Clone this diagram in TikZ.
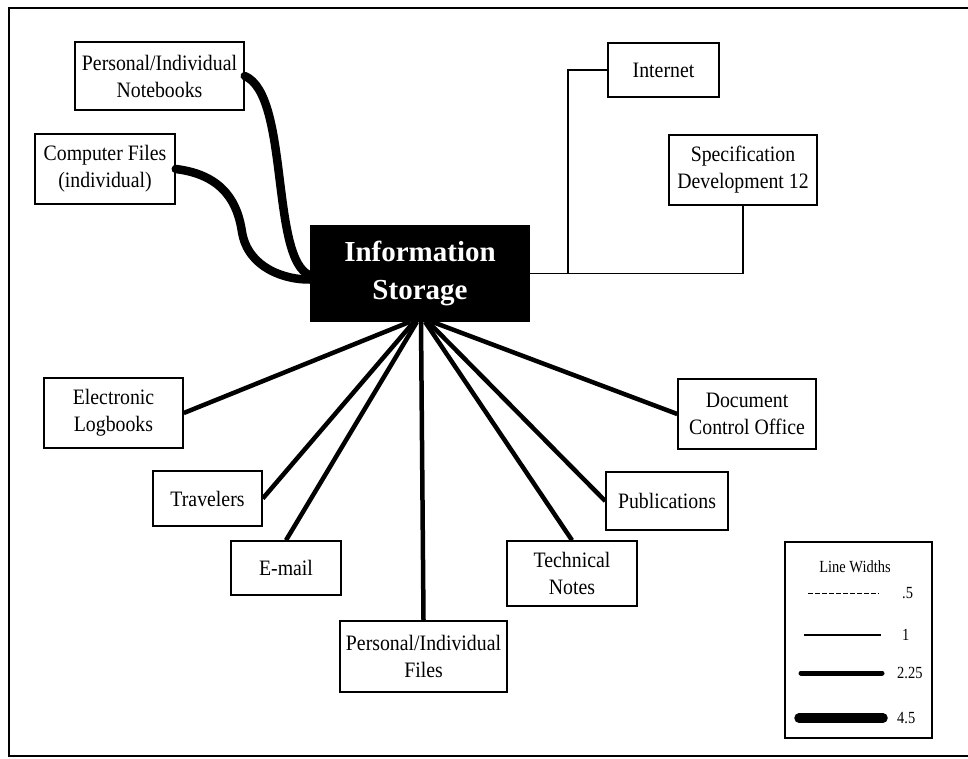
\documentclass[tikz,border=0pt]{standalone}
\usepackage{fontspec}
\setmainfont{Liberation Serif}
\newfontfamily\nodefont[FakeStretch=0.9]{Liberation Serif}
\newfontfamily\legfont[FakeStretch=0.85]{Liberation Serif}
\usetikzlibrary{calc}
\begin{document}
\begin{tikzpicture}[x=1pt,y=-1pt,
  box/.style={draw, line width=1.5pt, align=center, inner sep=0pt,
    font=\nodefont\fontsize{22}{27}\selectfont},
  infobox/.style={draw, fill=black, text=white, line width=1.5pt, align=center, inner sep=0pt,
    font=\fontsize{29}{38}\selectfont\bfseries},
  thickcurve/.style={line width=8.5pt, line cap=round},
  spoke/.style={line width=4.5pt},
  thinlink/.style={line width=1.5pt},
  legendtxt/.style={font=\legfont\fontsize{17}{20}\selectfont, inner sep=0pt}
]
\useasboundingbox (0,0) rectangle (968,758);
% outer frame (right side lies outside the picture)
\draw[line width=2pt] (968,8) -- (9,8) -- (9,756) -- (968,756);

% nodes
\node[infobox, minimum width=218pt, minimum height=95pt] (info) at (420,273.5) {Information\\Storage};
\node[box, minimum width=169pt, minimum height=68pt] (nb) at (159.5,76) {Personal/Individual\\Notebooks};
\node[box, minimum width=140pt, minimum height=70pt] (cf) at (105,169) {Computer Files\\(individual)};
\node[box, minimum width=111pt, minimum height=54pt] (inet) at (663.5,70) {Internet};
\node[box, minimum width=148pt, minimum height=70pt] (spec) at (743,170) {Specification\\Development 12};
\node[box, minimum width=139pt, minimum height=70pt] (elog) at (113.5,413) {Electronic\\Logbooks};
\node[box, minimum width=109pt, minimum height=55pt] (trav) at (207.5,498.5) {Travelers};
\node[box, minimum width=110pt, minimum height=54pt] (email) at (286,568) {E-mail};
\node[box, minimum width=167pt, minimum height=71pt] (pfiles) at (423.5,656.5) {Personal/Individual\\Files};
\node[box, minimum width=130pt, minimum height=65pt] (tech) at (572,573.5) {Technical\\Notes};
\node[box, minimum width=122pt, minimum height=58pt] (pub) at (667,501) {Publications};
\node[box, minimum width=138pt, minimum height=70pt] (dco) at (747,414) {Document\\Control Office};

% curved thick connectors
\draw[thickcurve] (nb.east) .. controls (290,95) and (270,260) .. ($(info.west)+(0,2)$);
\draw[thickcurve] (cf.east) .. controls (225,175) and (238,205) .. (242,232)
  .. controls (248,268) and (285,280) .. ($(info.west)+(0,6)$);

% thin orthogonal connectors
\coordinate (j) at (568,273.5);
\draw[thinlink] (info.east) -| (spec.south);
\draw[thinlink] (j) |- (inet.west);

% spokes
\draw[spoke] (elog.east) -- ($(info.south)+(-10,0)$);
\draw[spoke] (trav.east) -- ($(info.south)+(-6,0)$);
\draw[spoke] (email.north) -- ($(info.south)+(-3,0)$);
\draw[spoke] (pfiles.north) -- ($(info.south)+(1,0)$);
\draw[spoke] (tech.north) -- ($(info.south)+(5,0)$);
\draw[spoke] (pub.west) -- ($(info.south)+(8,0)$);
\draw[spoke] (dco.west) -- ($(info.south)+(12,0)$);

% legend
\node[draw, line width=1.5pt, minimum width=147pt, minimum height=196pt, inner sep=0pt] (legend) at (858.5,640) {};
\node[legendtxt] (ltitle) at (855,567) {Line Widths};
\coordinate (l1a) at (808,593); \coordinate (l1b) at (879,593);
\coordinate (l2a) at (804,635); \coordinate (l2b) at (881,635);
\coordinate (l3a) at (801,673); \coordinate (l3b) at (882,673);
\coordinate (l4a) at (799,718); \coordinate (l4b) at (883,718);
\draw[line width=1pt, dash pattern=on 5pt off 2pt] (l1a) -- (l1b);
\draw[line width=2.2pt] (l2a) -- (l2b);
\draw[line width=5pt, line cap=round] (l3a) -- (l3b);
\draw[line width=9.5pt, line cap=round] (l4a) -- (l4b);
\node[legendtxt, anchor=west] (v1) at (902,593) {.5};
\node[legendtxt, anchor=west] (v2) at (902,635) {1};
\node[legendtxt, anchor=west] (v3) at (897,673) {2.25};
\node[legendtxt, anchor=west] (v4) at (897,718) {4.5};
\end{tikzpicture}
\end{document}
